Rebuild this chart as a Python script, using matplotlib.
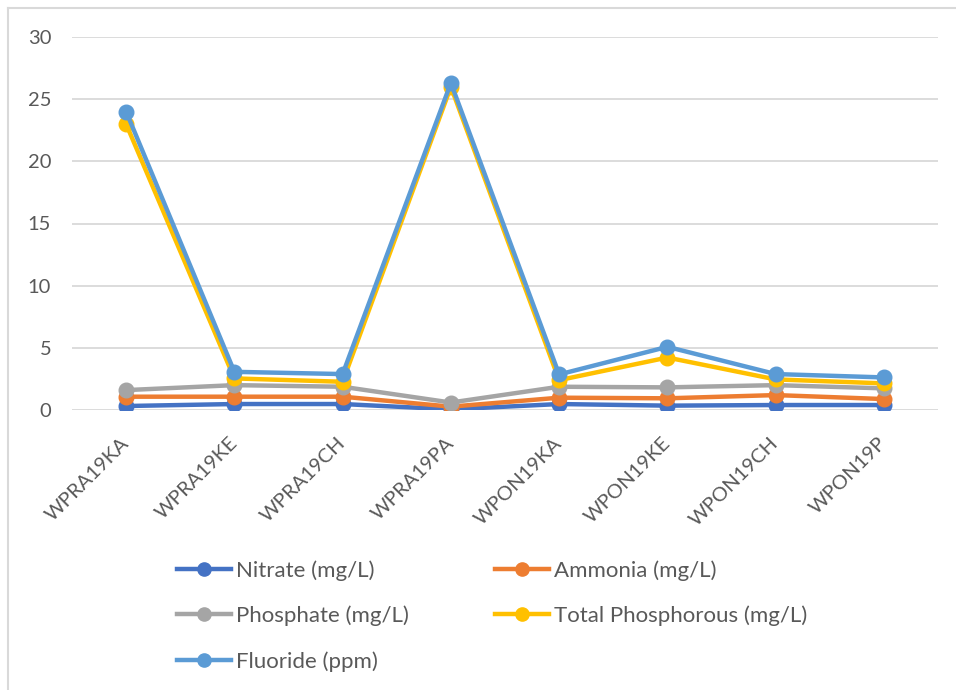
import matplotlib.pyplot as plt
from matplotlib.lines import Line2D

sites = ['WPRA19KA', 'WPRA19KE', 'WPRA19CH', 'WPRA19PA',
         'WPON19KA', 'WPON19KE', 'WPON19CH', 'WPON19P']
nitrate = [0.32, 0.48, 0.48, 0.05, 0.48, 0.35, 0.40, 0.40]
ammonia = [1.07, 1.07, 1.07, 0.27, 0.99, 0.94, 1.20, 0.88]
phosphate = [1.60, 2.00, 1.87, 0.60, 1.87, 1.82, 2.00, 1.74]
total_p = [23.0, 2.54, 2.27, 26.0, 2.40, 4.22, 2.46, 2.14]
fluoride = [24.0, 3.07, 2.89, 26.3, 2.86, 5.08, 2.89, 2.62]

names = ['Nitrate (mg/L)', 'Ammonia (mg/L)', 'Phosphate (mg/L)',
         'Total Phosphorous (mg/L)', 'Fluoride (ppm)']
series = [nitrate, ammonia, phosphate, total_p, fluoride]
colors = ['#4472C4', '#ED7D31', '#A5A5A5', '#FFC000', '#5B9BD5']

txt = '#595959'
plt.rcParams['font.family'] = ['Lato', 'DejaVu Sans']

fig = plt.figure(figsize=(9.56, 6.9), dpi=100)
ax = fig.add_axes([72/956, 1 - 410/690, (938 - 72)/956, (410 - 37)/690])

x = list(range(len(sites)))
for vals, c, n in zip(series, colors, names):
    ax.plot(x, vals, color=c, lw=3.2, marker='o', ms=10.5,
            solid_capstyle='round', solid_joinstyle='round', label=n)

ax.set_xlim(-0.5, 7.5)
ax.set_ylim(0, 30)
ax.set_yticks(range(0, 31, 5))
ax.grid(axis='y', color='#D9D9D9', lw=1.3)
ax.set_axisbelow(True)
for s in ax.spines.values():
    s.set_visible(False)
ax.tick_params(length=0, labelsize=14.5, colors=txt)
ax.tick_params(axis='y', pad=15)
ax.tick_params(axis='x', pad=22)
ax.set_xticks(x)
ax.set_xticklabels(sites, rotation=45, ha='right', va='center',
                   rotation_mode='anchor')

# legend, laid out row by row like the original
def leg_handle(c):
    return Line2D([], [], color=c, lw=3.2, marker='o', ms=9.5)

kw = dict(frameon=False, fontsize=16, labelcolor=txt, handlelength=2.43,
          handletextpad=0.22, labelspacing=1.12, borderpad=0, borderaxespad=0,
          loc='upper left')
fig.legend([leg_handle(colors[i]) for i in (0, 2, 4)],
           [names[i] for i in (0, 2, 4)],
           bbox_to_anchor=(177/956, 1 - 560/690), **kw)
fig.legend([leg_handle(colors[i]) for i in (1, 3)],
           [names[i] for i in (1, 3)],
           bbox_to_anchor=(495/956, 1 - 560/690), **kw)

# chart frame (only top and left edges visible in the crop)
fig.add_artist(Line2D([8/956, 8/956], [0, 1 - 8/690], color='#D9D9D9', lw=1.5))
fig.add_artist(Line2D([8/956, 1], [1 - 8/690, 1 - 8/690], color='#D9D9D9', lw=1.5))

fig.savefig('out.png', dpi=100)
